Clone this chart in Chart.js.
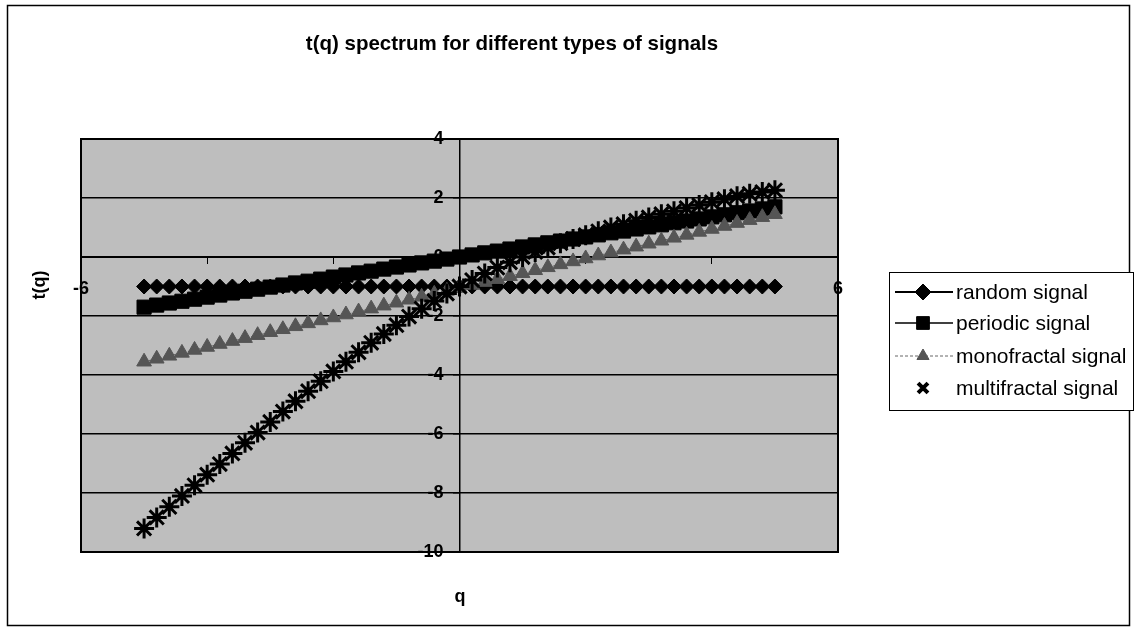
<!DOCTYPE html>
<html>
<head>
<meta charset="utf-8">
<script src="https://cdn.jsdelivr.net/npm/chart.js@4"></script>
<style>
html,body{margin:0;padding:0;background:#fff;}
canvas{display:block;}
</style>
</head>
<body>
<canvas id="c" width="1136" height="629"></canvas>
<script>
const q = [-5,-4.8,-4.6,-4.4,-4.2,-4,-3.8,-3.6,-3.4,-3.2,-3,-2.8,-2.6,-2.4,-2.2,-2,-1.8,-1.6,-1.4,-1.2,-1,-0.8,-0.6,-0.4,-0.2,0,0.2,0.4,0.6,0.8,1,1.2,1.4,1.6,1.8,2,2.2,2.4,2.6,2.8,3,3.2,3.4,3.6,3.8,4,4.2,4.4,4.6,4.8,5];
const randomSignal = [-1,-1,-1,-1,-1,-1,-1,-1,-1,-1,-1,-1,-1,-1,-1,-1,-1,-1,-1,-1,-1,-1,-1,-1,-1,-1,-1,-1,-1,-1,-1,-1,-1,-1,-1,-1,-1,-1,-1,-1,-1,-1,-1,-1,-1,-1,-1,-1,-1,-1,-1];
const periodicSignal = [-1.70,-1.63,-1.56,-1.50,-1.43,-1.36,-1.29,-1.22,-1.16,-1.09,-1.02,-0.95,-0.88,-0.82,-0.75,-0.68,-0.61,-0.54,-0.48,-0.41,-0.34,-0.27,-0.20,-0.14,-0.07,0,0.07,0.14,0.20,0.27,0.34,0.41,0.48,0.54,0.61,0.68,0.75,0.82,0.88,0.95,1.02,1.09,1.16,1.22,1.29,1.36,1.43,1.50,1.56,1.63,1.70];
const monofractalSignal = [-3.55,-3.45,-3.35,-3.25,-3.15,-3.05,-2.95,-2.85,-2.75,-2.65,-2.55,-2.45,-2.35,-2.25,-2.15,-2.05,-1.95,-1.85,-1.75,-1.65,-1.55,-1.45,-1.35,-1.25,-1.15,-1.05,-0.95,-0.85,-0.75,-0.65,-0.55,-0.45,-0.35,-0.25,-0.15,-0.05,0.05,0.15,0.25,0.35,0.45,0.55,0.65,0.75,0.85,0.95,1.05,1.15,1.25,1.35,1.45];
const multifractalSignal = [-9.20,-8.83,-8.47,-8.10,-7.74,-7.38,-7.02,-6.66,-6.30,-5.95,-5.59,-5.24,-4.89,-4.55,-4.21,-3.88,-3.55,-3.23,-2.91,-2.61,-2.31,-2.02,-1.75,-1.49,-1.24,-1.00,-0.78,-0.56,-0.36,-0.18,0,0.17,0.32,0.47,0.61,0.74,0.87,1.00,1.11,1.23,1.34,1.45,1.55,1.66,1.76,1.86,1.96,2.06,2.14,2.20,2.26];
const seriesNames = ['random signal','periodic signal','monofractal signal','multifractal signal'];
const yTicks = [-10,-8,-6,-4,-2,0,2,4];
const xTicks = [-6,-4,-2,0,2,4,6];
const xLabelsShown = [-6, 6];
const chartTitle = 't(q) spectrum for different types of signals';
const xTitle = 'q';
const yTitle = 't(q)';

const pts = arr => q.map((x, i) => ({x: x, y: arr[i]}));
const FONT = '"Liberation Sans", Arial, sans-serif';

const decor = {
  id: 'decor',
  beforeDraw(chart) {
    const ctx = chart.ctx, a = chart.chartArea;
    ctx.save();
    ctx.fillStyle = '#fff';
    ctx.fillRect(0, 0, chart.width, chart.height);
    ctx.strokeStyle = '#000';
    ctx.lineWidth = 1.5;
    ctx.strokeRect(7.5, 5.5, 1122, 620);
    ctx.fillStyle = '#bebebe';
    ctx.fillRect(a.left, a.top, a.right - a.left, a.bottom - a.top);
    ctx.restore();
  },
  beforeDatasetsDraw(chart) {
    const ctx = chart.ctx, a = chart.chartArea;
    const sx = chart.scales.x, sy = chart.scales.y;
    ctx.save();
    ctx.strokeStyle = '#000';
    ctx.lineWidth = 2;
    ctx.strokeRect(a.left, a.top, a.right - a.left, a.bottom - a.top);
    // y tick labels, left of the vertical axis at q = 0
    ctx.fillStyle = '#000';
    ctx.font = 'bold 18px ' + FONT;
    ctx.textAlign = 'right';
    ctx.textBaseline = 'middle';
    const ax = sx.getPixelForValue(0);
    yTicks.forEach(v => ctx.fillText(String(v), ax - 16, sy.getPixelForValue(v)));
    ctx.restore();
  },
  afterDraw(chart) {
    const ctx = chart.ctx;
    ctx.save();
    ctx.fillStyle = '#000';
    ctx.textAlign = 'center';
    ctx.textBaseline = 'middle';
    ctx.font = 'bold 20.5px ' + FONT;
    ctx.fillText(chartTitle, 512, 44);
    ctx.font = 'bold 18px ' + FONT;
    ctx.fillText(xTitle, 460, 597);
    ctx.save();
    ctx.translate(40, 285);
    ctx.rotate(-Math.PI / 2);
    ctx.fillText(yTitle, 0, 0);
    ctx.restore();
    // legend
    const lx = 889, ly = 272, lw = 244, lh = 138;
    ctx.fillStyle = '#fff';
    ctx.fillRect(lx, ly, lw, lh);
    ctx.strokeStyle = '#000';
    ctx.lineWidth = 1;
    ctx.strokeRect(lx + 0.5, ly + 0.5, lw, lh);
    const rows = [292, 323, 356, 388];
    chart.data.datasets.forEach((ds, i) => {
      const y = rows[i];
      if (ds.showLine) {
        ctx.save();
        ctx.strokeStyle = ds.borderColor;
        ctx.lineWidth = ds.borderWidth;
        ctx.setLineDash(ds.borderDash || []);
        ctx.beginPath();
        ctx.moveTo(895, y);
        ctx.lineTo(953, y);
        ctx.stroke();
        ctx.restore();
      }
      ctx.save();
      ctx.fillStyle = ds.pointBackgroundColor;
      ctx.strokeStyle = ds.pointBorderColor;
      ctx.lineWidth = ds.legendBorder;
      Chart.helpers.drawPoint(ctx, {pointStyle: ds.legendStyle, radius: ds.legendRadius, rotation: 0, borderWidth: ds.legendBorder}, 923, y);
      ctx.restore();
      ctx.fillStyle = '#000';
      ctx.textAlign = 'left';
      ctx.textBaseline = 'middle';
      ctx.font = '21px ' + FONT;
      ctx.fillText(ds.label, 956, y + 1);
    });
    ctx.restore();
  }
};

new Chart(document.getElementById('c'), {
  type: 'scatter',
  data: {
    datasets: [
      {label: seriesNames[0], data: pts(randomSignal), showLine: true, borderColor: '#000', borderWidth: 2,
       pointStyle: 'rectRot', pointRadius: 7.5, pointBackgroundColor: '#000', pointBorderColor: '#000', pointBorderWidth: 1,
       legendStyle: 'rectRot', legendRadius: 8, legendBorder: 1, order: 4},
      {label: seriesNames[1], data: pts(periodicSignal), showLine: true, borderColor: '#000', borderWidth: 1.5,
       pointStyle: 'rect', pointRadius: 10, pointBackgroundColor: '#000', pointBorderColor: '#000', pointBorderWidth: 1,
       legendStyle: 'rect', legendRadius: 9, legendBorder: 1, order: 3},
      {label: seriesNames[2], data: pts(monofractalSignal), showLine: true, borderColor: '#666', borderWidth: 1, borderDash: [3, 2],
       pointStyle: 'triangle', pointRadius: 8.5, pointBackgroundColor: '#555', pointBorderColor: '#555', pointBorderWidth: 1,
       legendStyle: 'triangle', legendRadius: 7, legendBorder: 1, order: 2},
      {label: seriesNames[3], data: pts(multifractalSignal), showLine: false, borderColor: '#000', borderWidth: 1,
       pointStyle: 'star', pointRadius: 10, pointBackgroundColor: '#000', pointBorderColor: '#000', pointBorderWidth: 3,
       legendStyle: 'crossRot', legendRadius: 7, legendBorder: 4, order: 1}
    ]
  },
  options: {
    responsive: false,
    animation: false,
    devicePixelRatio: 1,
    layout: {padding: {left: 81, top: 139, right: 298, bottom: 77}},
    plugins: {legend: {display: false}, title: {display: false}, tooltip: {enabled: false}},
    scales: {
      x: {
        type: 'linear', min: -6, max: 6, position: {y: 0},
        afterBuildTicks: s => { s.ticks = xTicks.map(v => ({value: v})); },
        ticks: {autoSkip: false, color: '#000', padding: 15, maxRotation: 0,
                callback: v => xLabelsShown.includes(v) ? String(v) : '',
                font: {family: FONT, size: 18, weight: 'bold'}},
        grid: {drawOnChartArea: false, drawTicks: true, tickLength: 6, color: '#000', lineWidth: 1},
        border: {display: true, color: '#000', width: 1}
      },
      y: {
        type: 'linear', min: -10, max: 4, position: {x: 0},
        afterBuildTicks: s => { s.ticks = yTicks.map(v => ({value: v})); },
        ticks: {display: false},
        grid: {drawOnChartArea: true, drawTicks: true, tickLength: 6, color: '#000', lineWidth: 1.5},
        border: {display: true, color: '#000', width: 1.5}
      }
    }
  },
  plugins: [decor]
});
</script>
</body>
</html>
